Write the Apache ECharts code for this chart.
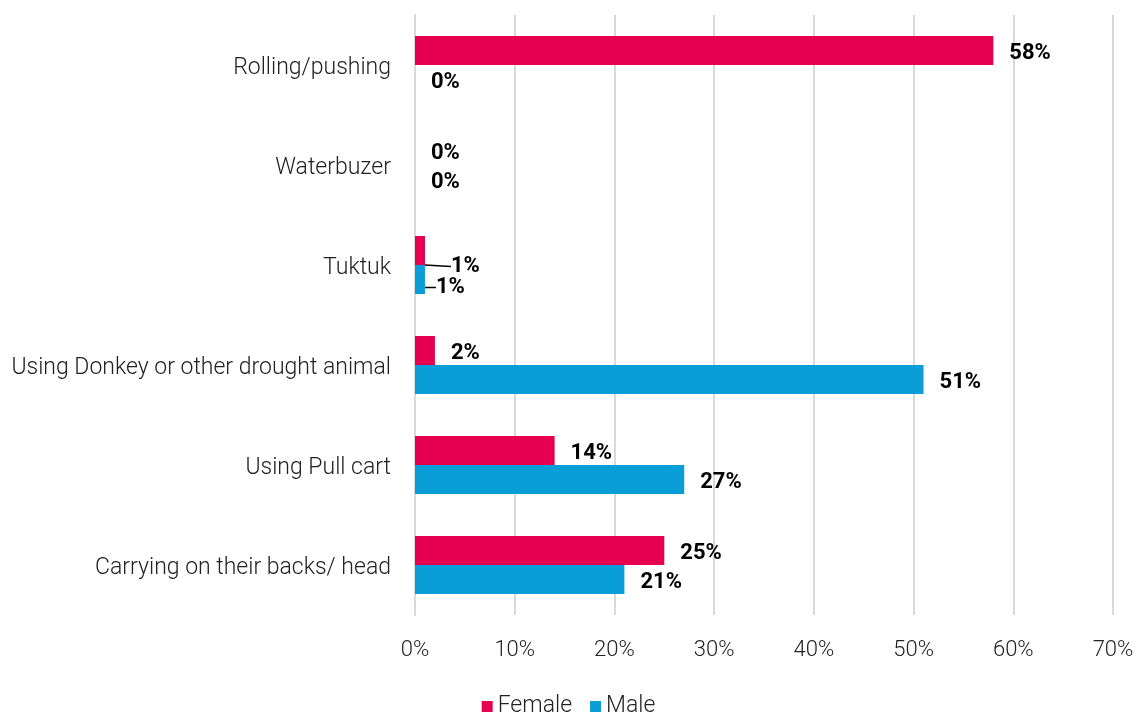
<!DOCTYPE html>
<html>
<head>
<meta charset="utf-8">
<script src="https://cdn.jsdelivr.net/npm/echarts@6/dist/echarts.min.js"></script>
<style>
  html, body { margin: 0; padding: 0; background: #fff; }
  #chart { width: 1137px; height: 715px; }
</style>
</head>
<body>
<div id="chart"></div>
<script>
// Transport methods, listed top to bottom
const categories = [
  'Rolling/pushing',
  'Waterbuzer',
  'Tuktuk',
  'Using Donkey or other drought animal',
  'Using Pull cart',
  'Carrying on their backs/ head'
];
// Share of respondents (%)
const femaleValues = [58, 0, 1, 2, 14, 25];
const maleValues = [0, 0, 1, 51, 27, 21];
const xTicks = [0, 10, 20, 30, 40, 50, 60, 70];

const FONT = 'Roboto';
const tuktukIndex = categories.indexOf('Tuktuk');

const chart = echarts.init(document.getElementById('chart'));

const valueLabel = {
  show: true,
  position: 'right',
  distance: 16,
  formatter: p => p.value + '%',
  fontFamily: FONT,
  fontWeight: 'bold',
  fontSize: 22,
  color: '#000'
};

// The Tuktuk labels are nudged apart and tied to their bars with a leader line
function withLeader(values) {
  return values.map((v, i) => i === tuktukIndex
    ? { value: v, labelLine: { show: true, lineStyle: { color: '#000', width: 1.5 } } }
    : v);
}

chart.setOption({
  animation: false,
  textStyle: { fontFamily: FONT },
  grid: { left: 415, right: 24, top: 15, bottom: 100, containLabel: false },
  legend: {
    top: 690,
    left: 'center',
    itemWidth: 11,
    itemHeight: 11,
    itemGap: 18,
    icon: 'rect',
    textStyle: { fontFamily: FONT, fontWeight: 300, fontSize: 23, color: '#222' },
    data: ['Female', 'Male']
  },
  xAxis: {
    type: 'value',
    min: 0,
    max: 70,
    interval: 10,
    axisLine: { show: false },
    axisTick: { show: false },
    splitLine: { lineStyle: { color: '#d9d9d9', width: 2 } },
    axisLabel: {
      margin: 24,
      fontFamily: FONT,
      fontWeight: 300,
      fontSize: 22,
      color: '#222',
      formatter: v => xTicks.includes(v) ? v + '%' : ''
    }
  },
  yAxis: {
    type: 'category',
    inverse: true,
    data: categories,
    axisLine: { show: true, lineStyle: { color: '#d9d9d9', width: 2 } },
    axisTick: { show: false },
    axisLabel: {
      margin: 24,
      formatter: v => '{c|' + v + '}',
      rich: {
        c: {
          padding: [7, 0, 0, 0],
          fontFamily: FONT,
          fontWeight: 300,
          fontSize: 23,
          color: '#222'
        }
      }
    }
  },
  series: [
    {
      name: 'Female',
      type: 'bar',
      data: withLeader(femaleValues),
      barWidth: 29,
      barGap: '0%',
      itemStyle: { color: '#E6004F' },
      label: valueLabel,
      labelLine: { show: false },
      labelLayout: p => p.dataIndex === tuktukIndex ? { dx: 10, dy: 16 } : { dy: 3 }
    },
    {
      name: 'Male',
      type: 'bar',
      data: withLeader(maleValues),
      barWidth: 29,
      barGap: '0%',
      itemStyle: { color: '#0A9ED9' },
      label: valueLabel,
      labelLine: { show: false },
      labelLayout: p => p.dataIndex === tuktukIndex ? { dx: -5, dy: 8 } : { dy: 3 }
    }
  ]
});
</script>
</body>
</html>
